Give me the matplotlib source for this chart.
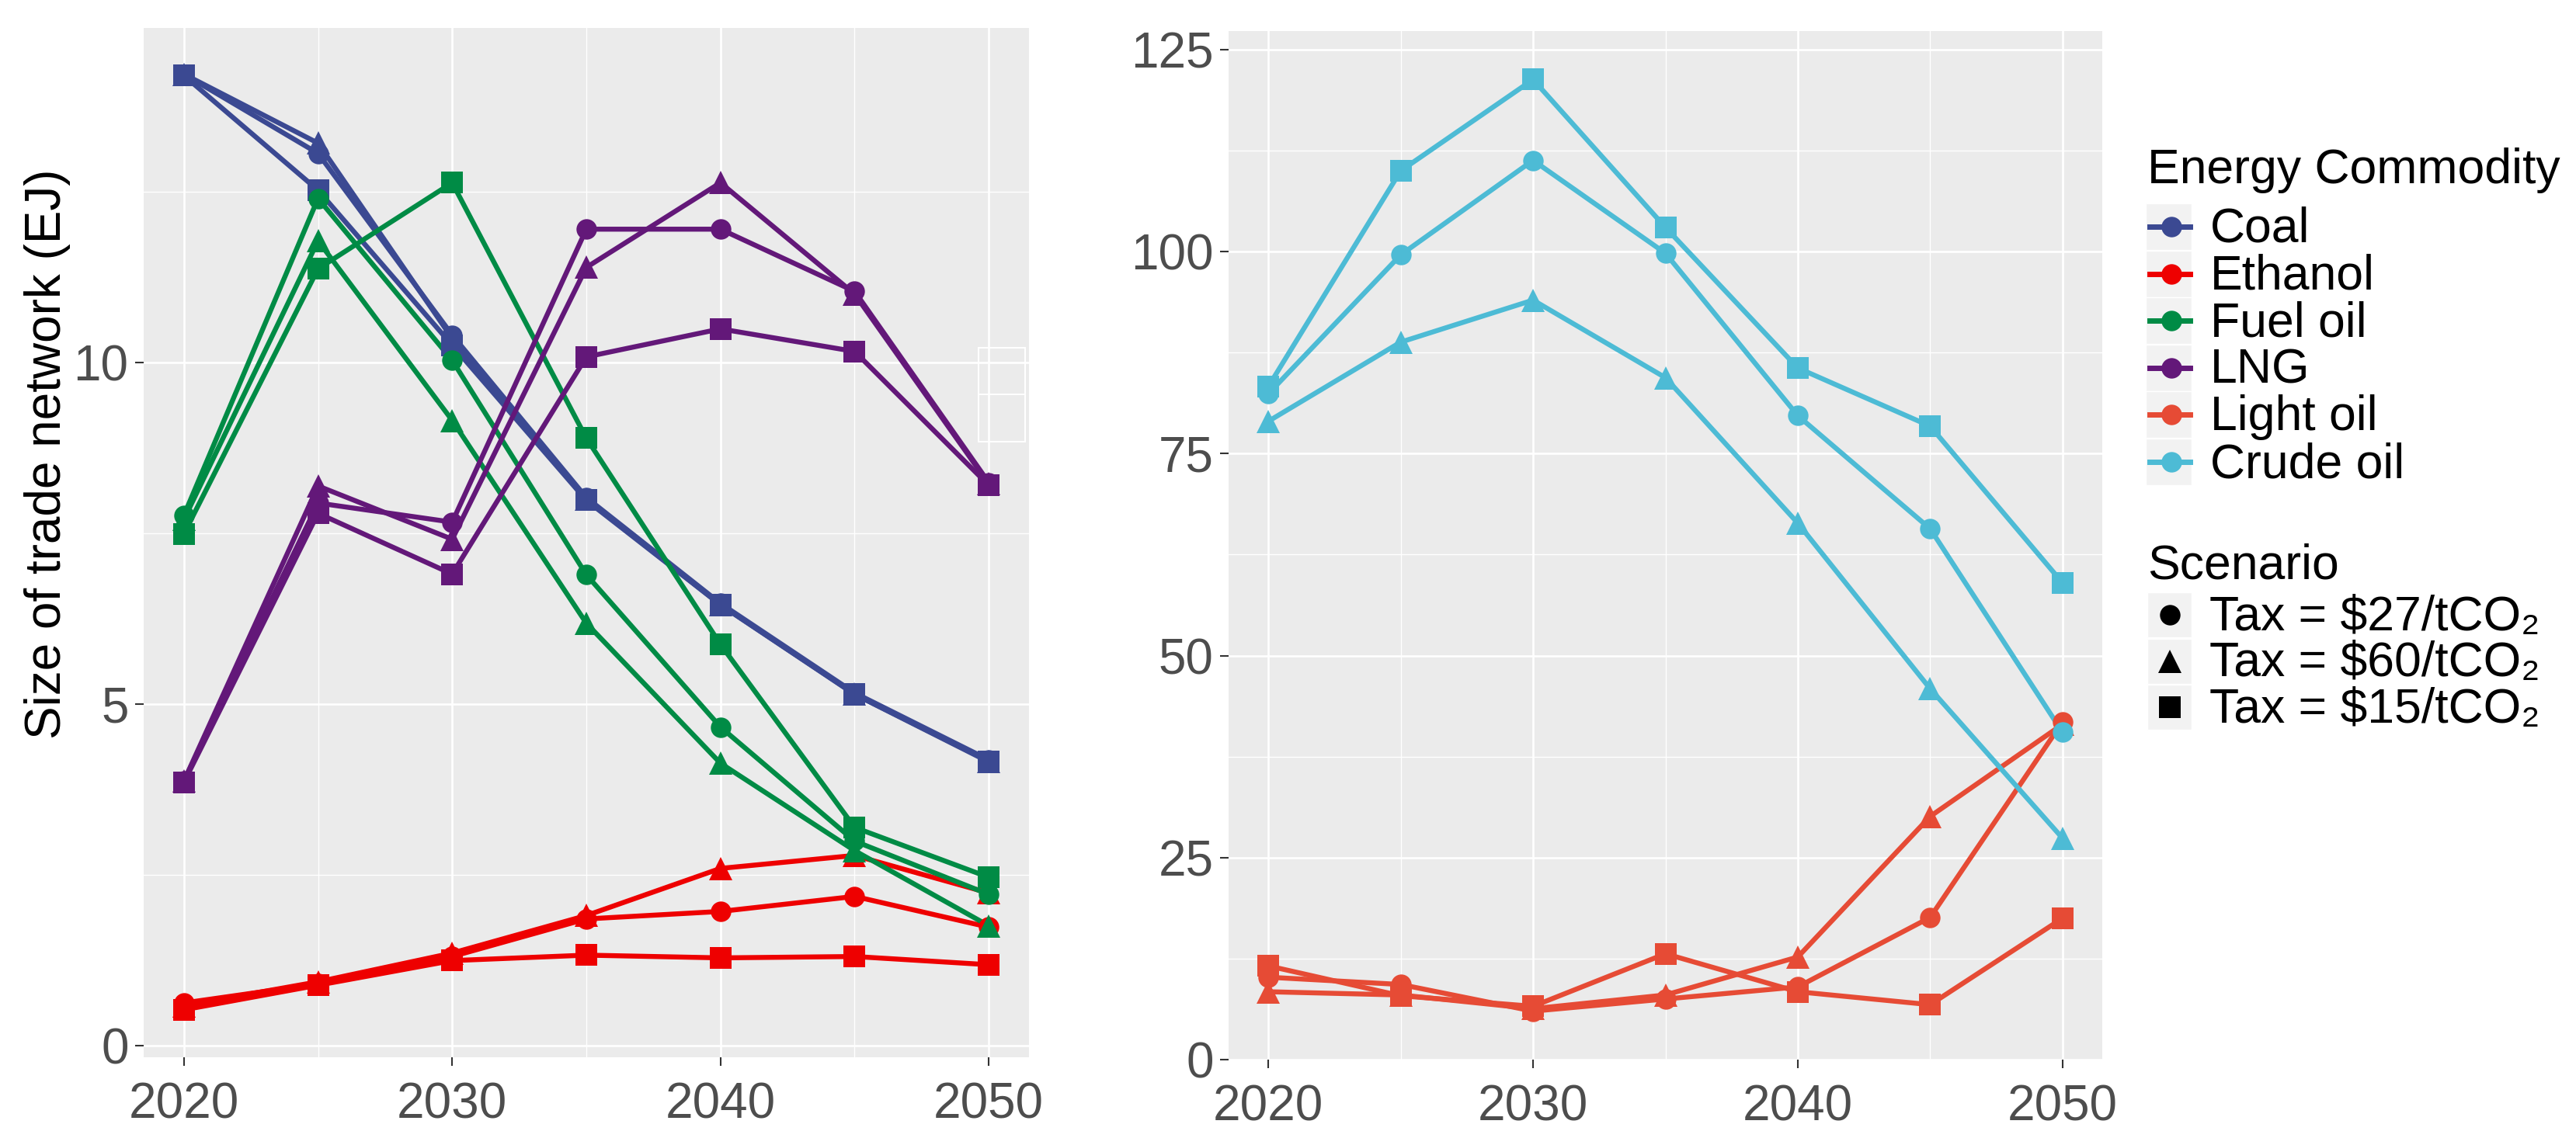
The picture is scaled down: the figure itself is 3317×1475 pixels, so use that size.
import numpy as np
import matplotlib.pyplot as plt
from matplotlib.lines import Line2D
from matplotlib.patches import Rectangle

plt.rcParams['font.family'] = ['Liberation Sans', 'DejaVu Sans']

W, H = 3317, 1475

years = [2020, 2025, 2030, 2035, 2040, 2045, 2050]

# scenario order: $27, $60, $15
scenario_labels = ['Tax = \\$27/tCO₂', 'Tax = \\$60/tCO₂', 'Tax = \\$15/tCO₂']

coal_27 = [14.22, 13.06, 10.40, 8.02, 6.47, 5.16, 4.18]
coal_60 = [14.22, 13.21, 10.35, 8.00, 6.45, 5.14, 4.16]
coal_15 = [14.20, 12.52, 10.25, 7.98, 6.45, 5.14, 4.15]

ethanol_27 = [0.62, 0.90, 1.30, 1.85, 1.96, 2.18, 1.73]
ethanol_60 = [0.58, 0.93, 1.35, 1.90, 2.59, 2.78, 2.23]
ethanol_15 = [0.52, 0.88, 1.24, 1.32, 1.28, 1.30, 1.18]

fueloil_27 = [7.76, 12.40, 10.03, 6.89, 4.66, 2.99, 2.21]
fueloil_60 = [7.70, 11.78, 9.15, 6.18, 4.13, 2.85, 1.75]
fueloil_15 = [7.49, 11.37, 12.63, 8.89, 5.87, 3.19, 2.46]

lng_27 = [3.87, 7.94, 7.66, 11.95, 11.95, 11.04, 8.24]
lng_60 = [3.87, 8.19, 7.41, 11.39, 12.63, 11.00, 8.22]
lng_15 = [3.85, 7.79, 6.90, 10.08, 10.49, 10.16, 8.20]

lightoil_27 = [10.2, 9.3, 6.0, 7.5, 9.0, 17.6, 41.8]
lightoil_60 = [8.4, 8.0, 6.3, 8.0, 12.7, 30.1, 41.5]
lightoil_15 = [11.6, 7.9, 6.6, 13.1, 8.4, 6.8, 17.5]

crudeoil_27 = [82.4, 99.6, 111.3, 99.8, 79.7, 65.7, 40.5]
crudeoil_60 = [79.0, 88.8, 94.0, 84.4, 66.4, 45.9, 27.4]
crudeoil_15 = [83.3, 110.0, 121.3, 103.0, 85.6, 78.4, 59.0]

commodities = ['Coal', 'Ethanol', 'Fuel oil', 'LNG', 'Light oil', 'Crude oil']
colors = ['#3B4992', '#EE0000', '#008B45', '#631879', '#E64B35', '#4DBBD5']
series = {
    'Coal': [coal_27, coal_60, coal_15],
    'Ethanol': [ethanol_27, ethanol_60, ethanol_15],
    'Fuel oil': [fueloil_27, fueloil_60, fueloil_15],
    'LNG': [lng_27, lng_60, lng_15],
    'Light oil': [lightoil_27, lightoil_60, lightoil_15],
    'Crude oil': [crudeoil_27, crudeoil_60, crudeoil_15],
}
markers = [('o', 19), ('^', 22), ('s', 20.5)]

fig = plt.figure(figsize=(W / 100, H / 100), dpi=100)
ax1 = fig.add_axes([185 / W, 1 - 1361.5 / H, 1140 / W, (1361.5 - 35.7) / H])
ax2 = fig.add_axes([1582 / W, 1 - 1365 / H, 1125 / W, (1365 - 40) / H])


def style(ax, ylim, yticks, yminor):
    ax.set_facecolor('#EBEBEB')
    ax.set_xlim(2018.5, 2051.5)
    ax.set_ylim(*ylim)
    ax.set_xticks([2020, 2030, 2040, 2050])
    ax.set_xticks([2025, 2035, 2045], minor=True)
    ax.set_yticks(yticks)
    ax.set_yticks(yminor, minor=True)
    ax.grid(which='major', color='white', lw=1.9)
    ax.grid(which='minor', color='white', lw=1.0)
    ax.set_axisbelow(True)
    ax.tick_params(which='minor', length=0)
    ax.tick_params(which='major', length=8, width=1.5, color='#333333',
                   labelcolor='#4D4D4D', labelsize=46)
    ax.tick_params(axis='x', pad=15)
    ax.tick_params(axis='y', pad=6)
    for s in ax.spines.values():
        s.set_visible(False)


def draw(ax, names):
    for name in names:
        c = colors[commodities.index(name)]
        for vals in series[name]:
            ax.plot(years, vals, color=c, lw=4.6, solid_capstyle='round',
                    solid_joinstyle='round', zorder=2)
    for name in names:
        c = colors[commodities.index(name)]
        for vals, (m, ms) in zip(series[name], markers):
            ax.plot(years, vals, ls='none', marker=m, ms=ms, color=c, mew=0, zorder=3)


draw(ax1, ['Coal', 'Ethanol', 'Fuel oil', 'LNG'])
draw(ax2, ['Light oil', 'Crude oil'])
style(ax1, (-0.17, 14.9), [0, 5, 10], [2.5, 7.5, 12.5])
style(ax2, (0, 127.3), [0, 25, 50, 75, 100, 125], [12.5, 37.5, 62.5, 87.5, 112.5])

fig.text(61 / W, 1 - 585 / H, 'Size of trade network (EJ)', rotation=90,
         ha='center', va='center', fontsize=46, color='black')

# overlay in pixel coordinates for legend and small artefact box
ov = fig.add_axes([0, 0, 1, 1])
ov.set_xlim(0, W)
ov.set_ylim(H, 0)
ov.axis('off')

ov.add_patch(Rectangle((1260, 448), 60, 121, fill=False, ec='white', lw=1.5))
ov.add_line(Line2D([1260, 1320], [508, 508], color='white', lw=1.5))

ov.text(2765, 236, 'Energy Commodity', fontsize=45, va='baseline', ha='left')
for i, name in enumerate(commodities):
    base = 312 + 60.6 * i
    cy = base - 20
    c = colors[i]
    ov.add_patch(Rectangle((2763, cy - 30), 59, 60, fc='#F2F2F2', ec='white', lw=1))
    ov.add_line(Line2D([2768, 2820], [cy, cy], color=c, lw=5))
    ov.plot([2796], [cy], 'o', ms=19, color=c, mew=0)
    ov.text(2846, base, name, fontsize=45, va='baseline', ha='left')

ov.text(2765, 746, 'Scenario', fontsize=45, va='baseline', ha='left')
for i, lab in enumerate(scenario_labels):
    base = 812 + 59.5 * i
    cy = base - 20
    m, ms = markers[i]
    ov.add_patch(Rectangle((2765, cy - 29), 57, 58, fc='#F2F2F2', ec='white', lw=1))
    ov.plot([2794], [cy], marker=m, ms=ms, color='black', mew=0, ls='none')
    ov.text(2845, base, lab, fontsize=45, va='baseline', ha='left')

fig.savefig('out.png', dpi=100)
